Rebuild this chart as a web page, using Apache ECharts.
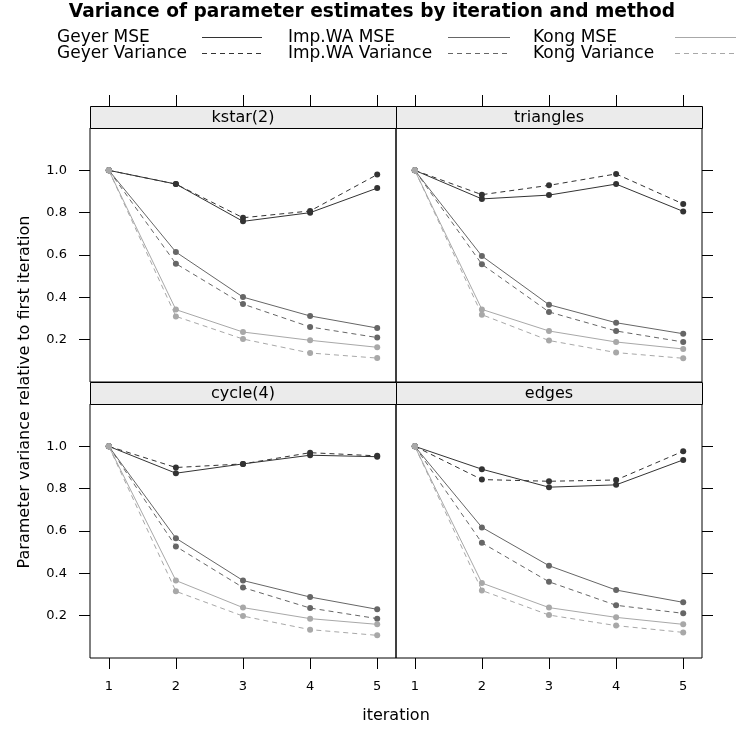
<!DOCTYPE html>
<html><head><meta charset="utf-8">
<script src="https://cdn.jsdelivr.net/npm/echarts@6/dist/echarts.min.js"></script>
<style>html,body{margin:0;padding:0;background:#fff}#c{width:736px;height:729px}</style>
</head><body><div id="c"></div>
<script>
const iterations = [1, 2, 3, 4, 5];
const panelNames = ['kstar(2)', 'triangles', 'cycle(4)', 'edges'];
const yTicks = [0.2, 0.4, 0.6, 0.8, 1.0];
const methodNames = ['Geyer MSE', 'Geyer Variance', 'Imp.WA MSE', 'Imp.WA Variance', 'Kong MSE', 'Kong Variance'];

// rows: kstar(2), triangles, cycle(4), edges
const geyerMSE = [
  [1, 0.935, 0.759, 0.800, 0.916],
  [1, 0.865, 0.883, 0.935, 0.806],
  [1, 0.873, 0.917, 0.958, 0.951],
  [1, 0.892, 0.807, 0.818, 0.936]
];
const geyerVariance = [
  [1, 0.935, 0.776, 0.808, 0.980],
  [1, 0.885, 0.929, 0.983, 0.841],
  [1, 0.900, 0.917, 0.970, 0.955],
  [1, 0.843, 0.835, 0.841, 0.977]
];
const impWAMSE = [
  [1, 0.614, 0.401, 0.312, 0.255],
  [1, 0.595, 0.365, 0.280, 0.228],
  [1, 0.566, 0.366, 0.288, 0.230],
  [1, 0.617, 0.436, 0.321, 0.263]
];
const impWAVariance = [
  [1, 0.559, 0.368, 0.260, 0.210],
  [1, 0.556, 0.331, 0.241, 0.189],
  [1, 0.527, 0.333, 0.236, 0.186],
  [1, 0.544, 0.360, 0.249, 0.211]
];
const kongMSE = [
  [1, 0.342, 0.236, 0.197, 0.164],
  [1, 0.343, 0.241, 0.189, 0.156],
  [1, 0.366, 0.238, 0.186, 0.159],
  [1, 0.354, 0.238, 0.192, 0.159]
];
const kongVariance = [
  [1, 0.310, 0.203, 0.137, 0.113],
  [1, 0.318, 0.196, 0.139, 0.112],
  [1, 0.315, 0.198, 0.134, 0.107],
  [1, 0.319, 0.203, 0.153, 0.121]
];

const methodValues = [geyerMSE, geyerVariance, impWAMSE, impWAVariance, kongMSE, kongVariance];
const methodColors = ['#333333', '#333333', '#666666', '#666666', '#a8a8a8', '#a8a8a8'];
const DASH = [5, 4];
const methodDash = ['solid', DASH, 'solid', DASH, 'solid', DASH];

const FONT = 'DejaVu Sans';
const gridPos = [
  {left: 90, top: 128, width: 306, height: 254},
  {left: 396, top: 128, width: 306, height: 254},
  {left: 90, top: 404, width: 306, height: 254},
  {left: 396, top: 404, width: 306, height: 254}
];
const STRIP_H = 22;

const grids = gridPos.map(g => Object.assign({show: true, borderColor: '#000', borderWidth: 1, backgroundColor: 'transparent', containLabel: false}, g));

const xAxes = gridPos.map((g, i) => {
  const top = i < 2;
  return {
    type: 'value', gridIndex: i, min: 0.72, max: 5.28,
    position: top ? 'top' : 'bottom', offset: top ? STRIP_H : 0,
    axisLine: {show: false, onZero: false},
    axisTick: {show: true, inside: false, length: 11, customValues: iterations, lineStyle: {color: '#000', width: 1}},
    axisLabel: {show: !top, customValues: iterations, margin: 22, color: '#000', fontFamily: FONT, fontSize: 13},
    splitLine: {show: false}
  };
});
const yAxes = gridPos.map((g, i) => {
  const left = i % 2 === 0;
  return {
    type: 'value', gridIndex: i, min: 0, max: 1.2,
    position: left ? 'left' : 'right',
    axisLine: {show: false, onZero: false},
    axisTick: {show: true, inside: false, length: 11, customValues: yTicks, lineStyle: {color: '#000', width: 1}},
    axisLabel: {show: left, customValues: yTicks, margin: 23, color: '#000', fontFamily: FONT, fontSize: 13, formatter: v => Number(v).toFixed(1)},
    splitLine: {show: false}
  };
});

const series = [];
for (let p = 0; p < panelNames.length; p++) {
  for (let m = 0; m < methodNames.length; m++) {
    series.push({
      type: 'line', name: methodNames[m], xAxisIndex: p, yAxisIndex: p,
      data: iterations.map((x, k) => [x, methodValues[m][p][k]]),
      symbol: 'circle', symbolSize: 6, showSymbol: true,
      lineStyle: {color: methodColors[m], width: 1, type: methodDash[m]},
      itemStyle: {color: methodColors[m]},
      silent: true, animation: false
    });
  }
}

const graphic = [];
gridPos.forEach((g, i) => {
  const sy = g.top - STRIP_H;
  graphic.push({type: 'rect', shape: {x: g.left + 0.5, y: sy + 0.5, width: g.width, height: STRIP_H},
    style: {fill: '#ebebeb', stroke: '#000', lineWidth: 1}, z: 10});
  graphic.push({type: 'text', x: g.left + g.width / 2, y: sy + STRIP_H / 2 + 1,
    style: {text: panelNames[i], fontFamily: FONT, fontSize: 16, fill: '#000', align: 'center', verticalAlign: 'middle'}, z: 11});
});
// title
graphic.push({type: 'text', x: 372, y: 12.5,
  style: {text: 'Variance of parameter estimates by iteration and method', fontFamily: FONT, fontWeight: 'bold', fontSize: 18.6, fill: '#000', align: 'center', verticalAlign: 'middle'}});
// legend
const legTextX = [57, 288, 533];
const legLineX = [[202, 262], [448, 510], [675, 737]];
const legRowY = [37.5, 53.5];
for (let c = 0; c < 3; c++) {
  for (let r = 0; r < 2; r++) {
    const m = c * 2 + r;
    graphic.push({type: 'text', x: legTextX[c], y: legRowY[r],
      style: {text: methodNames[m], fontFamily: FONT, fontSize: 17, fill: '#000', align: 'left', verticalAlign: 'middle'}});
    graphic.push({type: 'line', shape: {x1: legLineX[c][0], y1: legRowY[r], x2: legLineX[c][1], y2: legRowY[r]},
      style: {stroke: methodColors[m], lineWidth: 1, lineDash: r === 1 ? DASH : null}});
  }
}
// axis titles
graphic.push({type: 'text', x: 396, y: 716,
  style: {text: 'iteration', fontFamily: FONT, fontSize: 16, fill: '#000', align: 'center', verticalAlign: 'middle'}});
graphic.push({type: 'text', x: 25, y: 392, rotation: Math.PI / 2,
  style: {text: 'Parameter variance relative to first iteration', fontFamily: FONT, fontSize: 16, fill: '#000', align: 'center', verticalAlign: 'middle'}});

const chart = echarts.init(document.getElementById('c'), null, {renderer: 'canvas'});
chart.setOption({
  animation: false,
  backgroundColor: '#fff',
  grid: grids,
  xAxis: xAxes,
  yAxis: yAxes,
  series: series,
  graphic: graphic
});
</script>
</body></html>
